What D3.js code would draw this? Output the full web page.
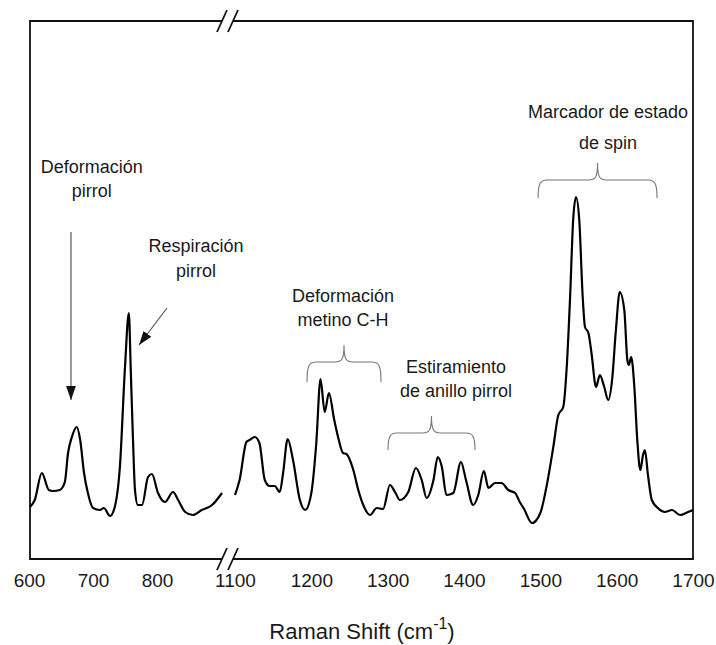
<!DOCTYPE html>
<html>
<head>
<meta charset="utf-8">
<script src="https://cdn.jsdelivr.net/npm/d3@7"></script>
<style>
  body { margin: 0; background: #fff; }
  svg text { font-family: "Liberation Sans", Arial, sans-serif; fill: #1a1a1a; }
</style>
</head>
<body>
<svg id="raman"></svg>
<script>
// low-wavenumber segment (600-900 cm-1)
var leftShift = [601.6, 609, 620, 631, 637.5, 648, 656, 661, 667, 674.5, 680, 686, 692, 700, 711,
  717, 726.6, 734, 742, 750, 756, 759, 762.5, 765.6, 770, 776.6, 786, 792, 801.6, 812.5,
  825, 833, 844, 856, 870, 886, 901.6];
var leftIntensity = [52, 59, 86, 69, 68, 69, 77, 106, 122, 132, 119, 86, 66, 51, 49,
  51, 43, 52, 92, 192, 246, 189, 119, 69, 54, 54, 82, 85, 66, 57,
  67, 59, 47, 44, 49, 54, 66];

// high-wavenumber segment (1100-1700 cm-1)
var rightShift = [1100, 1106, 1115, 1119, 1126, 1132, 1139, 1145.5, 1152, 1158.6, 1163, 1169, 1176, 1185, 1192,
  1200, 1206.5, 1212, 1217.5, 1223, 1230, 1235, 1241.5, 1246, 1255, 1261.5, 1268, 1277, 1285.6, 1294,
  1303, 1309.6, 1316, 1327, 1337, 1344.6, 1351, 1360, 1365.6, 1371, 1377, 1386, 1396, 1402.6, 1412,
  1418.7, 1426, 1432, 1440.6, 1449, 1458, 1467, 1473, 1478, 1489, 1500, 1508, 1517, 1523.6, 1530,
  1534.6, 1539, 1543, 1546.7, 1551, 1555.5, 1558.5, 1563, 1567, 1573, 1578, 1583, 1589, 1594, 1599,
  1604, 1610, 1614, 1616, 1619, 1623, 1627, 1631, 1634.5, 1637, 1641, 1646, 1654, 1663, 1672.5,
  1683, 1693.5, 1700];
var rightIntensity = [64, 79, 117, 119, 122, 116, 79, 73, 73, 67, 86, 120, 99, 59, 49,
  66, 116, 180, 147, 166, 139, 122, 106, 105, 89, 69, 54, 44, 51, 50,
  74, 67, 59, 67, 91, 79, 61, 79, 102, 92, 64, 66, 97, 79, 54,
  64, 88, 71, 76, 76, 69, 66, 57, 51, 36, 46, 72, 112, 144, 152,
  192, 262, 339, 362, 339, 262, 232, 226, 206, 172, 184, 174, 159, 179, 229,
  267, 249, 199, 194, 202, 174, 119, 89, 104, 109, 84, 59, 51, 47, 49,
  44, 47, 49];

var leftTicks = [600, 700, 800];
var rightTicks = [1100, 1200, 1300, 1400, 1500, 1600, 1700];

// labels: anchor in data units (shift, intensity of first baseline)
var labelText = [
  ['Deformación', 'pirrol'],
  ['Respiración', 'pirrol'],
  ['Deformación', 'metino C-H'],
  ['Estiramiento', 'de anillo pirrol'],
  ['Marcador de estado', 'de spin']
];
var labelShift = [698, 861, 1241.5, 1389.5, 1588.7];
var labelIntensity = [386, 307, 257, 186, 441];

// curly braces: start/end shift, end / bar / tip intensity
var braceFrom = [1194.3, 1300.4, 1497];
var braceTo = [1291.3, 1414.4, 1652.9];
var braceEnd = [177, 109, 361];
var braceBar = [197, 126, 379];
var braceTip = [214, 143, 396];

// arrows: from -> to
var arrowFrom = [[665.6, 327], [815.6, 251]];
var arrowTo = [[665.6, 159], [771.9, 214]];

var spectrum = {
  width: 716,
  height: 645,
  frame: { left: 30, right: 693, top: 21, bottom: 559 },
  breakX: 227.5,

  init: function() {
    var self = this;

    self.svg = d3.select('#raman')
      .attr('width', self.width)
      .attr('height', self.height);

    self.xLeft = d3.scaleLinear().domain([600, 900]).range([29, 221]);
    self.xRight = d3.scaleLinear().domain([1100, 1700]).range([235, 693]);
    self.y = d3.scaleLinear().domain([0, 538]).range([self.frame.bottom, self.frame.top]);

    self.drawFrame();
    self.drawSpectrum();
    self.drawAxis();
    self.drawNotes();
  },

  x: function(v) {
    return v < 1000 ? this.xLeft(v) : this.xRight(v);
  },

  drawFrame: function() {
    var self = this, f = self.frame, b = self.breakX;
    var g = self.svg.append('g')
      .attr('fill', 'none')
      .attr('stroke', '#111')
      .attr('stroke-width', 1.8);

    g.append('path').attr('d',
      'M' + (b - 5.5) + ',' + f.top + 'H' + f.left + 'V' + f.bottom + 'H' + (b - 5.5) +
      'M' + (b + 5.5) + ',' + f.top + 'H' + f.right + 'V' + f.bottom + 'H' + (b + 5.5));

    [f.top, f.bottom].forEach(function(yy) {
      [-5.5, 5.5].forEach(function(dx) {
        g.append('line')
          .attr('x1', b + dx - 5).attr('y1', yy + 11)
          .attr('x2', b + dx + 5).attr('y2', yy - 11);
      });
    });
  },

  drawSpectrum: function() {
    var self = this;
    var line = d3.line()
      .x(function(d) { return self.x(d[0]); })
      .y(function(d) { return self.y(d[1]); })
      .curve(d3.curveMonotoneX);

    var segments = [
      d3.zip(leftShift, leftIntensity),
      d3.zip(rightShift, rightIntensity)
    ];

    self.svg.append('g').selectAll('path')
      .data(segments)
      .enter().append('path')
      .attr('d', line)
      .attr('fill', 'none')
      .attr('stroke', '#000')
      .attr('stroke-width', 2.2)
      .attr('stroke-linejoin', 'round');
  },

  drawAxis: function() {
    var self = this;
    var axes = [
      { scale: self.xLeft, ticks: leftTicks },
      { scale: self.xRight, ticks: rightTicks }
    ];

    axes.forEach(function(a) {
      var ax = self.svg.append('g')
        .attr('transform', 'translate(0,' + self.frame.bottom + ')')
        .call(d3.axisBottom(a.scale).tickValues(a.ticks).tickFormat(d3.format('d'))
          .tickSize(0).tickPadding(0));
      ax.select('.domain').remove();
      ax.selectAll('text')
        .attr('dy', null)
        .attr('y', 28)
        .style('font-size', '19px')
        .style('font-family', '"Liberation Sans", Arial, sans-serif')
        .attr('fill', '#1a1a1a');
    });

    var title = self.svg.append('text')
      .attr('x', 362)
      .attr('y', 639)
      .attr('text-anchor', 'middle')
      .style('font-size', '22px');
    title.append('tspan').text('Raman Shift (cm');
    title.append('tspan').attr('dy', -10).style('font-size', '16px').text('-1');
    title.append('tspan').attr('dy', 10).text(')');
  },

  drawNotes: function() {
    var self = this;

    var defs = self.svg.append('defs');
    defs.append('marker')
      .attr('id', 'head')
      .attr('viewBox', '0 0 10 10')
      .attr('refX', 10).attr('refY', 5)
      .attr('markerWidth', 14).attr('markerHeight', 14)
      .attr('markerUnits', 'userSpaceOnUse')
      .attr('orient', 'auto')
      .append('path')
      .attr('d', 'M0,1.5L10,5L0,8.5Z')
      .attr('fill', '#111');

    self.svg.append('g').selectAll('line')
      .data(d3.zip(arrowFrom, arrowTo))
      .enter().append('line')
      .attr('x1', function(d) { return self.x(d[0][0]); })
      .attr('y1', function(d) { return self.y(d[0][1]); })
      .attr('x2', function(d) { return self.x(d[1][0]); })
      .attr('y2', function(d) { return self.y(d[1][1]); })
      .attr('stroke', '#555')
      .attr('stroke-width', 1.2)
      .attr('marker-end', 'url(#head)');

    var brace = function(i) {
      var x1 = self.x(braceFrom[i]), x2 = self.x(braceTo[i]);
      var xc = (x1 + x2) / 2;
      var ye = self.y(braceEnd[i]), yb = self.y(braceBar[i]), yt = self.y(braceTip[i]);
      var r = 9;
      return 'M' + x1 + ',' + ye +
        'C' + x1 + ',' + (yb + 4) + ' ' + (x1 + 2) + ',' + yb + ' ' + (x1 + r) + ',' + yb +
        'L' + (xc - r) + ',' + yb +
        'C' + (xc - 2) + ',' + yb + ' ' + xc + ',' + (yb - 3) + ' ' + xc + ',' + yt +
        'C' + xc + ',' + (yb - 3) + ' ' + (xc + 2) + ',' + yb + ' ' + (xc + r) + ',' + yb +
        'L' + (x2 - r) + ',' + yb +
        'C' + (x2 - 2) + ',' + yb + ' ' + x2 + ',' + (yb + 4) + ' ' + x2 + ',' + ye;
    };

    self.svg.append('g').selectAll('path')
      .data(d3.range(braceFrom.length))
      .enter().append('path')
      .attr('d', brace)
      .attr('fill', 'none')
      .attr('stroke', '#777')
      .attr('stroke-width', 1.1);

    var lineGap = [24, 25, 24, 24, 31];
    var notes = self.svg.append('g').selectAll('text')
      .data(d3.range(labelText.length))
      .enter().append('text')
      .attr('text-anchor', 'middle')
      .style('font-size', '18px');

    notes.each(function(i) {
      var t = d3.select(this);
      labelText[i].forEach(function(s, k) {
        t.append('tspan')
          .attr('x', self.x(labelShift[i]))
          .attr('y', self.y(labelIntensity[i]) + k * lineGap[i])
          .text(s);
      });
    });
  }
};

spectrum.init();
</script>
</body>
</html>
